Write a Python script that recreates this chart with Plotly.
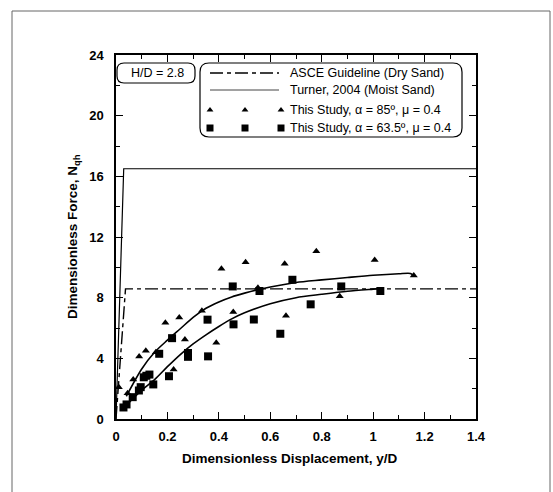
import plotly.graph_objects as go

# ---------------- data ----------------
asce_x = [0.0, 0.037, 1.4]
asce_y = [0.0, 8.58, 8.58]

turner_x = [0.0, 0.030, 1.4]
turner_y = [0.0, 16.5, 16.5]

tri_x = [0.011, 0.045, 0.067, 0.090, 0.116, 0.155, 0.192, 0.224, 0.246, 0.268, 0.334, 0.390,
         0.410, 0.456, 0.504, 0.552, 0.656, 0.661, 0.779, 0.870, 1.006, 1.158]
tri_y = [2.1, 1.7, 2.6, 4.12, 4.5, 4.4, 6.34, 3.26, 6.7, 5.24, 7.14, 5.02,
         9.9, 7.06, 10.34, 8.66, 10.23, 6.8, 11.06, 8.09, 10.49, 9.46]

sq_x = [0.029, 0.041, 0.065, 0.089, 0.096, 0.108, 0.118, 0.130, 0.145, 0.168, 0.206, 0.218,
        0.280, 0.280, 0.356, 0.358, 0.454, 0.457, 0.536, 0.558, 0.639, 0.686, 0.757, 0.876, 1.028]
sq_y = [0.76, 0.96, 1.44, 1.88, 2.1, 2.75, 2.85, 2.93, 2.28, 4.3, 2.82, 5.33,
        4.35, 4.1, 6.55, 4.13, 8.74, 6.24, 6.56, 8.44, 5.62, 9.18, 7.56, 8.74, 8.44]

fit85_x = [0.04, 0.10, 0.15, 0.20, 0.25, 0.30, 0.35, 0.40, 0.45, 0.50, 0.55, 0.60, 0.70, 0.80,
           0.90, 1.00, 1.10, 1.145, 1.158]
fit85_y = [1.5, 3.3, 4.4, 5.2, 5.95, 6.7, 7.3, 7.72, 8.05, 8.3, 8.52, 8.7, 9.0, 9.17,
           9.33, 9.48, 9.58, 9.6, 9.46]

fit63_x = [0.04, 0.10, 0.15, 0.20, 0.25, 0.30, 0.35, 0.40, 0.45, 0.50, 0.60, 0.70, 0.80, 0.90, 1.00, 1.03]
fit63_y = [0.9, 1.9, 2.6, 3.45, 4.25, 4.95, 5.55, 6.1, 6.6, 7.0, 7.6, 8.0, 8.22, 8.42, 8.56, 8.6]

x_ticks = [0, 0.2, 0.4, 0.6, 0.8, 1.0, 1.2, 1.4]
x_tick_labels = ["0", "0.2", "0.4", "0.6", "0.8", "1", "1.2", "1.4"]
y_ticks = [0, 4, 8, 12, 16, 20, 24]

legend_labels = ["ASCE Guideline (Dry Sand)", "Turner, 2004 (Moist Sand)",
                 "This Study, \u03b1 = 85\u00ba, \u03bc = 0.4", "This Study, \u03b1 = 63.5\u00ba, \u03bc = 0.4"]

# ---------------- layout geometry (pixels) ----------------
W, H = 553, 492
L, R, T, B = 116, 77, 55, 73
PX0, PX1 = L, W - R
PY0, PY1 = T, H - B
FONT = "Arial, Liberation Sans, sans-serif"


def px2paper_x(px):
    return (px - PX0) / (PX1 - PX0)


def px2paper_y(py):
    return (PY1 - py) / (PY1 - PY0)


def rounded_rect(x0, y0, x1, y1, r):
    X = px2paper_x
    Y = px2paper_y
    return (f"M {X(x0 + r)},{Y(y0)} L {X(x1 - r)},{Y(y0)} Q {X(x1)},{Y(y0)} {X(x1)},{Y(y0 + r)} "
            f"L {X(x1)},{Y(y1 - r)} Q {X(x1)},{Y(y1)} {X(x1 - r)},{Y(y1)} "
            f"L {X(x0 + r)},{Y(y1)} Q {X(x0)},{Y(y1)} {X(x0)},{Y(y1 - r)} "
            f"L {X(x0)},{Y(y0 + r)} Q {X(x0)},{Y(y0)} {X(x0 + r)},{Y(y0)} Z")


ASCE_DASH = "13px,4px,4px,4px"

fig = go.Figure()

fig.add_trace(go.Scatter(x=asce_x, y=asce_y, mode="lines",
                         line=dict(color="black", width=1.4, dash=ASCE_DASH), showlegend=False))
fig.add_trace(go.Scatter(x=turner_x, y=turner_y, mode="lines",
                         line=dict(color="black", width=1.2), showlegend=False))
fig.add_trace(go.Scatter(x=fit85_x, y=fit85_y, mode="lines", line_shape="spline",
                         line=dict(color="black", width=1.6, smoothing=0.8), showlegend=False))
fig.add_trace(go.Scatter(x=fit63_x, y=fit63_y, mode="lines", line_shape="spline",
                         line=dict(color="black", width=1.6, smoothing=0.8), showlegend=False))
fig.add_trace(go.Scatter(x=tri_x, y=tri_y, mode="markers",
                         marker=dict(symbol="triangle-up", size=7, color="black"), showlegend=False))
fig.add_trace(go.Scatter(x=sq_x, y=sq_y, mode="markers",
                         marker=dict(symbol="square", size=8, color="black"), showlegend=False))

# ---------------- custom legend (pixel overlay axes) ----------------
row_y = [73, 90, 110, 128]
samp_x0, samp_x1 = 210, 279
mark_xs = [210, 245, 281]
text_x = 288

fig.add_trace(go.Scatter(x=[samp_x0, samp_x1], y=[row_y[0]] * 2, xaxis="x2", yaxis="y2", mode="lines",
                         line=dict(color="black", width=1.4, dash=ASCE_DASH), showlegend=False))
fig.add_trace(go.Scatter(x=[samp_x0, samp_x1], y=[row_y[1]] * 2, xaxis="x2", yaxis="y2", mode="lines",
                         line=dict(color="#444", width=1.0), showlegend=False))
fig.add_trace(go.Scatter(x=mark_xs, y=[row_y[2]] * 3, xaxis="x2", yaxis="y2", mode="markers",
                         marker=dict(symbol="triangle-up", size=6, color="black"), showlegend=False))
fig.add_trace(go.Scatter(x=mark_xs, y=[row_y[3]] * 3, xaxis="x2", yaxis="y2", mode="markers",
                         marker=dict(symbol="square", size=7, color="black"), showlegend=False))

annotations = []
for lab, ry in zip(legend_labels, row_y):
    annotations.append(dict(x=px2paper_x(text_x), y=px2paper_y(ry), xref="paper", yref="paper",
                            text=lab, showarrow=False, xanchor="left", yanchor="middle",
                            font=dict(family=FONT, size=12.5, color="black")))
annotations.append(dict(x=px2paper_x(157), y=px2paper_y(73), xref="paper", yref="paper",
                        text="H/D = 2.8", showarrow=False, xanchor="center", yanchor="middle",
                        font=dict(family=FONT, size=12.5, color="black")))
annotations.append(dict(x=px2paper_x(290), y=px2paper_y(458), xref="paper", yref="paper",
                        text="<b>Dimensionless Displacement, y/D</b>", showarrow=False,
                        xanchor="center", yanchor="middle",
                        font=dict(family=FONT, size=13.5, color="black")))
annotations.append(dict(x=px2paper_x(73), y=px2paper_y(237), xref="paper", yref="paper",
                        text="<b>Dimensionless Force, N<sub>qh</sub></b>", showarrow=False,
                        textangle=-90, xanchor="center", yanchor="middle",
                        font=dict(family=FONT, size=13.5, color="black")))

shapes = [
    dict(type="path", xref="paper", yref="paper", path=rounded_rect(200, 63, 462, 137, 9),
         line=dict(color="black", width=1.2), fillcolor="rgba(0,0,0,0)"),
    dict(type="path", xref="paper", yref="paper", path=rounded_rect(117, 63, 195, 83, 7),
         line=dict(color="black", width=1.2), fillcolor="rgba(0,0,0,0)"),
    # outer page frame
    dict(type="line", xref="paper", yref="paper",
         x0=px2paper_x(12), x1=px2paper_x(12), y0=px2paper_y(498), y1=px2paper_y(11),
         line=dict(color="#666", width=1)),
    dict(type="line", xref="paper", yref="paper",
         x0=px2paper_x(12), x1=px2paper_x(550), y0=px2paper_y(11), y1=px2paper_y(11),
         line=dict(color="#666", width=1)),
    dict(type="line", xref="paper", yref="paper",
         x0=px2paper_x(550), x1=px2paper_x(550), y0=px2paper_y(498), y1=px2paper_y(11),
         line=dict(color="#666", width=1)),
]

axis_common = dict(showgrid=False, zeroline=False, showline=True, linecolor="black", linewidth=1.5,
                   mirror="ticks", ticks="inside", ticklen=7, tickwidth=1.3, tickcolor="black",
                   tickfont=dict(family=FONT, size=13, color="black", weight="bold"))

fig.update_layout(
    width=W, height=H,
    margin=dict(l=L, r=R, t=T, b=B, pad=0),
    paper_bgcolor="white", plot_bgcolor="white",
    showlegend=False,
    xaxis=dict(range=[0, 1.4], tickvals=x_ticks, ticktext=x_tick_labels,
               minor=dict(ticks="inside", ticklen=4, dtick=0.1, tickwidth=1.1, tickcolor="black"),
               ticklabelstandoff=5, **axis_common),
    yaxis=dict(range=[0, 24], tickvals=y_ticks,
               minor=dict(ticks="inside", ticklen=4, dtick=2, tickwidth=1.1, tickcolor="black"),
               ticklabelstandoff=8, **axis_common),
    xaxis2=dict(range=[PX0, PX1], overlaying="x", visible=False, fixedrange=True),
    yaxis2=dict(range=[PY1, PY0], overlaying="y", visible=False, fixedrange=True),
    annotations=annotations,
    shapes=shapes,
)

fig.write_html("out.html", config={"displayModeBar": False},
               post_script="document.body.style.margin='0';document.body.style.padding='0';"
                           "document.documentElement.style.overflow='hidden';")
